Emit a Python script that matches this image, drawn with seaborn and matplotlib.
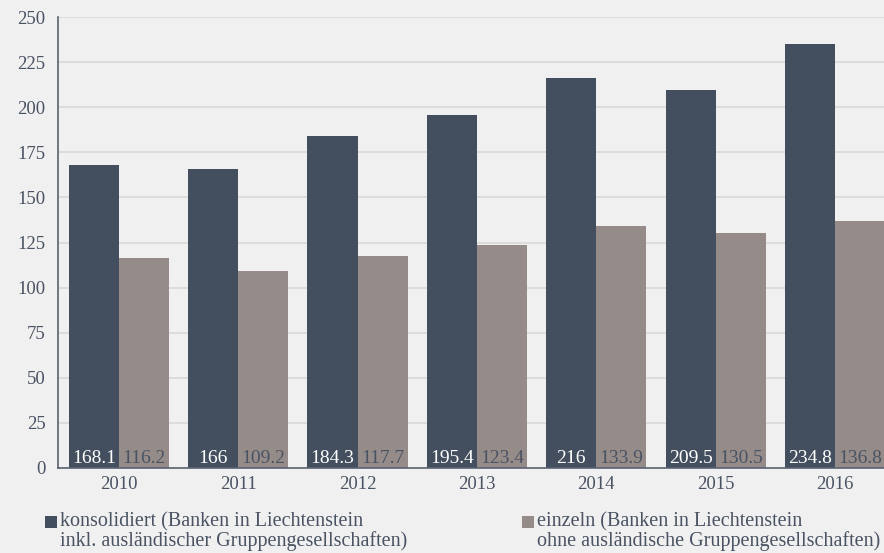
import matplotlib
matplotlib.use("Agg")
import matplotlib.pyplot as plt
import seaborn as sns
import pandas as pd
from matplotlib.patches import Rectangle

years = ["2010", "2011", "2012", "2013", "2014", "2015", "2016"]
konsolidiert = [168.1, 166, 184.3, 195.4, 216, 209.5, 234.8]
einzeln = [116.2, 109.2, 117.7, 123.4, 133.9, 130.5, 136.8]
konsolidiert_labels = ["168.1", "166", "184.3", "195.4", "216", "209.5", "234.8"]
einzeln_labels = ["116.2", "109.2", "117.7", "123.4", "133.9", "130.5", "136.8"]
series_names = ["konsolidiert (Banken in Liechtenstein\ninkl. ausländischer Gruppengesellschaften)",
                "einzeln (Banken in Liechtenstein\nohne ausländische Gruppengesellschaften)"]
yticks = [0, 25, 50, 75, 100, 125, 150, 175, 200, 225, 250]

BG = "#f0f0f0"
DARK = "#434f5e"
GRAY = "#958c89"
TEXT = "#4a5363"

df = pd.DataFrame({
    "Jahr": years * 2,
    "Wert": konsolidiert + einzeln,
    "Serie": [series_names[0]] * len(years) + [series_names[1]] * len(years),
})

sns.set_theme(style="white")
plt.rcParams["font.family"] = ["Liberation Serif", "DejaVu Serif"]

fig = plt.figure(figsize=(8.84, 5.53), dpi=100, facecolor=BG)
ax = fig.add_axes([58 / 884, 1 - 468 / 553, 1 - 58 / 884, (468 - 17) / 553])
ax.set_facecolor(BG)

sns.barplot(data=df, x="Jahr", y="Wert", hue="Serie", order=years,
            hue_order=series_names, palette=[DARK, GRAY], width=0.84,
            gap=0, saturation=1, ax=ax, legend=False, linewidth=0)

ax.set_ylim(0, 250)
ax.set_xlim(-0.51, 6.41)
ax.set_yticks(yticks)
ax.set_yticklabels([str(t) for t in yticks])
ax.yaxis.grid(True, color="#d8d8d8", linewidth=1.2)
ax.set_axisbelow(True)
ax.set_xlabel("")
ax.set_ylabel("")
ax.tick_params(axis="both", length=0, labelsize=13.5, colors=TEXT)
ax.tick_params(axis="y", pad=9)
ax.tick_params(axis="x", pad=6)
for s in ["top", "right"]:
    ax.spines[s].set_visible(False)
for s in ["left", "bottom"]:
    ax.spines[s].set_color("#5a6370")
    ax.spines[s].set_linewidth(1.2)

label_sets = [(konsolidiert_labels, "white"), (einzeln_labels, TEXT)]
for container, (labels, col) in zip(ax.containers, label_sets):
    for patch, lab in zip(container.patches, labels):
        cx = patch.get_x() + patch.get_width() / 2
        ax.annotate(lab, (cx, 0), xytext=(0, 1), textcoords="offset points",
                    ha="center", va="bottom", fontsize=14, color=col)

W, H = 884, 553
legend_items = [(45, 60, DARK, series_names[0]), (522, 537, GRAY, series_names[1])]
for sx, tx, col, name in legend_items:
    fig.add_artist(Rectangle((sx / W, 1 - 528 / H), 12 / W, 12 / H,
                             transform=fig.transFigure, facecolor=col, edgecolor="none"))
    fig.text(tx / W, 1 - 512 / H, name, ha="left", va="top", fontsize=14.5,
             color=TEXT, linespacing=0.98)

fig.savefig("out.png", dpi=100, facecolor=BG)
